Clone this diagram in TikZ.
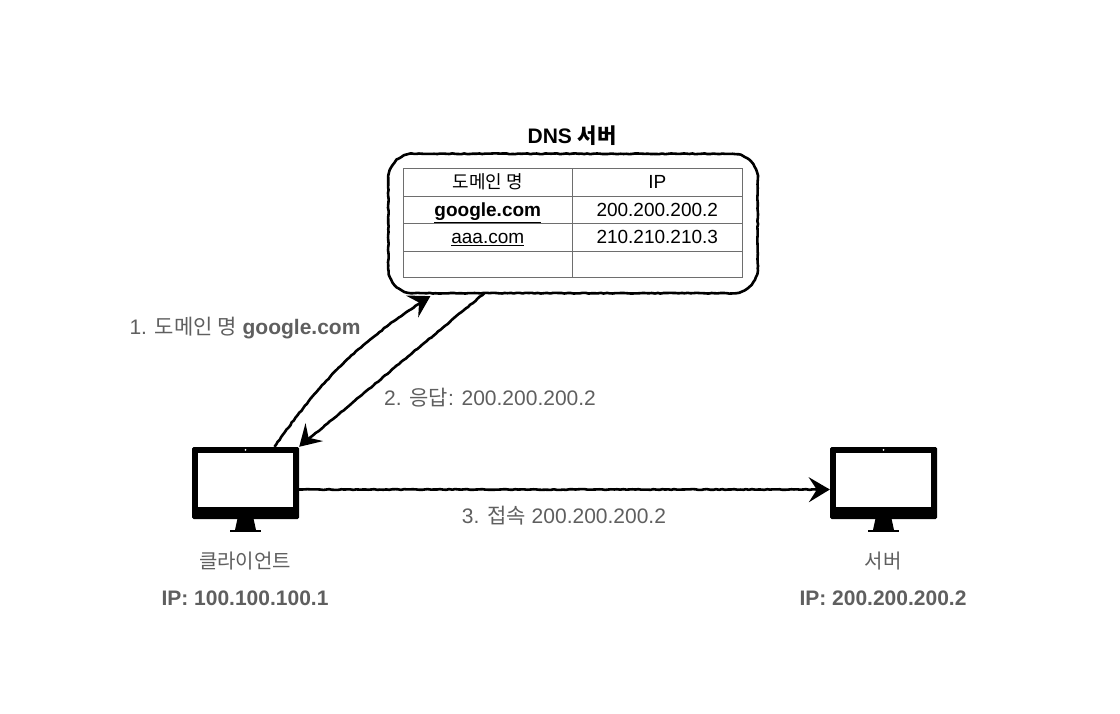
\documentclass[tikz,border=0pt]{standalone}
\usepackage{fontspec}
\setmainfont{Liberation Sans}
\newfontfamily\cjk{Noto Sans CJK KR}
\usetikzlibrary{arrows.meta,decorations.pathmorphing}
\definecolor{labelgray}{HTML}{5F5F5F}
\definecolor{cellgray}{HTML}{6E6E6E}
\tikzset{
    txt/.style={font=\fontsize{21}{25}\selectfont,inner sep=0pt},
    graytxt/.style={txt,text=labelgray},
    boldtxt/.style={font=\fontsize{21}{25}\selectfont\bfseries},
    cellbox/.style={draw=cellgray,line width=0.8pt,inner sep=0pt,text height=16pt,text depth=2pt,font=\fontsize{19}{23}\selectfont},
    sketch/.style={black,line width=2.6pt,line join=round,decorate,decoration={random steps,segment length=3pt,amplitude=0.4pt}},
    sketcharrow/.style={sketch,-{Stealth[length=21pt,width=25pt,inset=8pt]}},
    monitorbox/.style={inner sep=0pt,minimum width=107pt,minimum height=85pt},
}
\newcommand{\monitor}[3]{%
    \node[monitorbox] (#1) at (#2,#3) {};
    \begin{scope}[shift={(#1.center)}]
        \fill[black,rounded corners=1.5pt] (-53.5,-42.5) rectangle (53.5,29.5);
        \fill[white] (-47.5,-36.5) rectangle (47.5,17.5);
        \fill[white] (0,-39.7) circle (1pt);
        \fill[black] (-8,29) -- (8,29) -- (10.5,40.5) -- (-10.5,40.5) -- cycle;
        \fill[black] (-15.5,40) rectangle (15.5,42.5);
    \end{scope}
}
\begin{document}
\begin{tikzpicture}[x=1pt,y=-1pt]
    \useasboundingbox (0,0) rectangle (1120,714);
    \fill[white] (0,0) rectangle (1120,714);

    \node[txt,boldtxt] (dnstitle) at (572,136) {DNS {\cjk 서버}};
    \node[minimum width=369pt,minimum height=139pt,inner sep=0pt] (dns) at (573,223.5) {};
    \draw[sketch] ([xshift=25pt]dns.north west) -- ([xshift=-25pt]dns.north east)
        arc[start angle=-90,end angle=0,radius=25] -- ([yshift=25pt]dns.south east)
        arc[start angle=0,end angle=90,radius=25] -- ([xshift=25pt]dns.south west)
        arc[start angle=90,end angle=180,radius=25] -- ([yshift=-25pt]dns.north west)
        arc[start angle=180,end angle=270,radius=25] -- cycle;

    % table cells
    \node[cellbox,minimum width=169.5pt,minimum height=28pt] (domainhead) at (487.75,182) {\fontsize{18}{22}\selectfont\cjk 도메인 명};
    \node[cellbox,minimum width=169.5pt,minimum height=28pt] (iphead) at (657.25,182) {IP};
    \node[cellbox,minimum width=169.5pt,minimum height=27pt] (googlecell) at (487.75,209.5) {\textbf{\underline{google.com}}};
    \node[cellbox,minimum width=169.5pt,minimum height=27pt] (googleip) at (657.25,209.5) {200.200.200.2};
    \node[cellbox,minimum width=169.5pt,minimum height=28pt] (aaacell) at (487.75,237) {\underline{aaa.com}};
    \node[cellbox,minimum width=169.5pt,minimum height=28pt] (aaaip) at (657.25,237) {210.210.210.3};
    \node[cellbox,minimum width=169.5pt,minimum height=26pt] (emptycell) at (487.75,264) {};
    \node[cellbox,minimum width=169.5pt,minimum height=26pt] (emptyip) at (657.25,264) {};

    \monitor{client}{245.5}{489.5}
    \monitor{server}{883.5}{489.5}

    \node[graytxt,font=\fontsize{20}{24}\selectfont] (clientname) at (245,561) {\cjk 클라이언트};
    \node[graytxt,boldtxt] (clientip) at (245,598.5) {IP: 100.100.100.1};
    \node[graytxt,font=\fontsize{20}{24}\selectfont] (servername) at (883,561) {\cjk 서버};
    \node[graytxt,boldtxt] (serverip) at (883,598.5) {IP: 200.200.200.2};

    \node[graytxt] (asklabel) at (245,328) {1. {\cjk 도메인 명} \textbf{google.com}};
    \node[graytxt] (answerlabel) at (490,398) {2. {\cjk 응답}: 200.200.200.2};
    \node[graytxt] (connectlabel) at (564,516) {3. {\cjk 접속} 200.200.200.2};

    \draw[sketcharrow] ([xshift=29pt]client.north) to[bend left=11] ([xshift=42pt,yshift=-3pt]dns.south west);
    \draw[sketcharrow] ([xshift=96pt]dns.south west) to (client.north east);
    \draw[sketcharrow] (client.east) to (server.west);
\end{tikzpicture}
\end{document}
